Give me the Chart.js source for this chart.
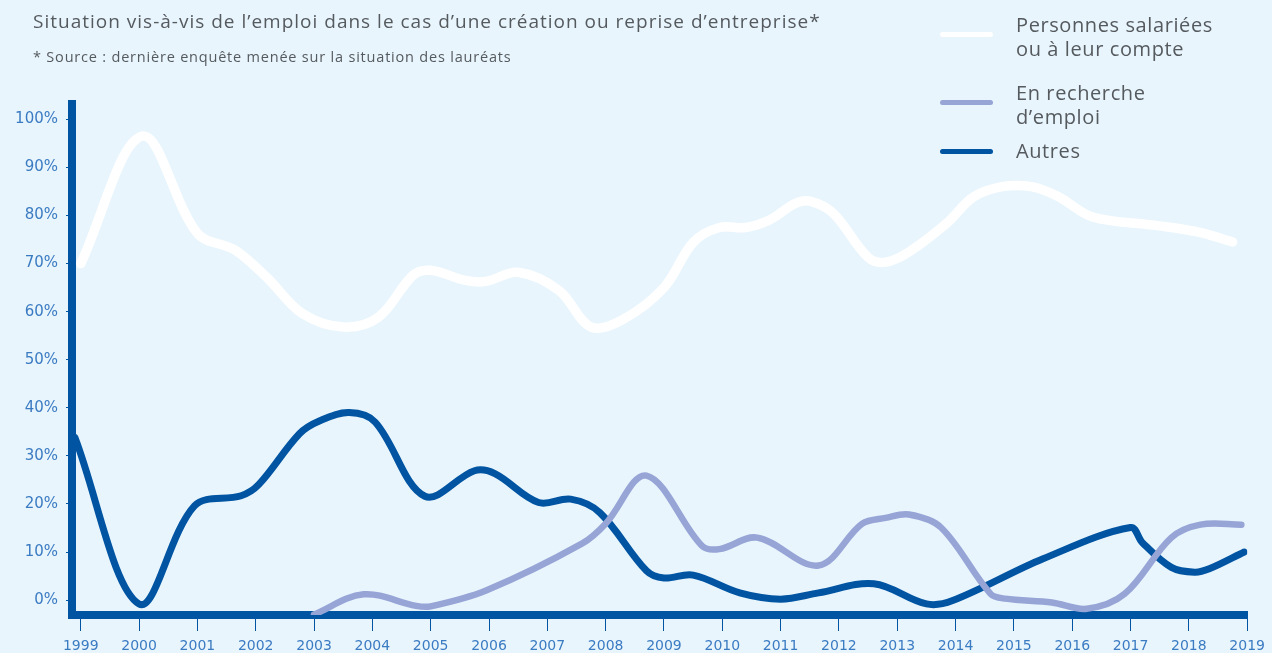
<!DOCTYPE html>
<html lang="fr">
<head>
<meta charset="utf-8">
<title>Situation vis-à-vis de l’emploi</title>
<script src="https://cdn.jsdelivr.net/npm/chart.js@4/dist/chart.umd.min.js"></script>
<style>
  html, body {
    margin: 0;
    padding: 0;
    background: #e8f5fd;
  }
  .wrap {
    position: relative;
    width: 1272px;
    height: 653px;
    font-family: "Open Sans", sans-serif;
    color: #555a5e;
  }
  .title {
    position: absolute;
    left: 33px;
    top: 8px;
    font-size: 19px;
    letter-spacing: 1px;
    white-space: nowrap;
  }
  .subtitle {
    position: absolute;
    left: 33px;
    top: 47px;
    font-size: 14.5px;
    letter-spacing: 0.8px;
    white-space: nowrap;
  }
  .legend_item {
    position: absolute;
    left: 940px;
  }
  .legend_line {
    position: absolute;
    left: 0;
    width: 53px;
    height: 5px;
    border-radius: 3px;
  }
  .legend_text {
    position: absolute;
    left: 76px;
    font-size: 20px;
    letter-spacing: 0.6px;
    line-height: 24px;
    white-space: nowrap;
  }
  canvas {
    position: absolute;
    left: 0;
    top: 0;
  }
</style>
</head>
<body>
<div class="wrap">
  <canvas id="myChart" width="1272" height="653"></canvas>
  <div class="title">Situation vis-à-vis de l’emploi dans le cas d’une création ou reprise d’entreprise*</div>
  <div class="subtitle">* Source : dernière enquête menée sur la situation des lauréats</div>
  <div id="legend"></div>
</div>
<script>
const years = [1999, 2000, 2001, 2002, 2003, 2004, 2005, 2006, 2007, 2008, 2009,
  2010, 2011, 2012, 2013, 2014, 2015, 2016, 2017, 2018, 2019];
const yTicks = [0, 10, 20, 30, 40, 50, 60, 70, 80, 90, 100];

const salariesX = [1999, 2000.05, 2001, 2001.65, 2002.2, 2002.8, 2003.5, 2004.1,
  2004.7, 2005, 2005.6, 2005.95, 2006.5, 2007.2, 2007.75, 2008.3, 2009, 2009.5, 2009.95,
  2010.4, 2010.8, 2011.25, 2011.5, 2011.9, 2012.5, 2012.8, 2013.2, 2013.85, 2014.3,
  2014.8, 2015.3, 2015.75, 2016.35, 2017.4, 2018.15, 2018.75];
const salariesY = [70, 96.5, 76.3, 72.8, 67, 59.6, 56.8, 58.8,
  67.6, 68.6, 66.5, 66.3, 68.2, 64.4, 56.8, 58.4, 65, 74.4, 77.5,
  77.5, 79, 82.5, 83, 80.5, 71.3, 70.3, 72.4, 78.4, 83.8,
  86, 86, 84, 79.7, 78, 76.6, 74.5];

const rechercheX = [2003, 2003.85, 2004.75, 2005, 2005.95, 2007.6, 2008, 2008.7, 2009.65,
  2009.95, 2010.6, 2011.65, 2012.4, 2012.8, 2013.2, 2013.75, 2014.6, 2014.85, 2015.65,
  2016.25, 2016.9, 2017.7, 2018.2, 2018.9];
const rechercheY = [-3, 1.2, -1.2, -1.3, 2, 11.8, 15.9, 25.9, 11.3,
  10.6, 13, 7.2, 15.9, 17.1, 17.8, 15.1, 1.3, 0.3, -0.5,
  -1.8, 1.3, 13, 15.7, 15.7];

const autresX = [1998.9, 2000, 2000.95, 2001.75, 2002.05, 2002.75, 2003.1, 2003.6, 2004.05,
  2004.9, 2005.75, 2006.1, 2006.85, 2007.4, 2007.9, 2008.7, 2009, 2009.5, 2010.3, 2011,
  2011.65, 2012.6, 2013.5, 2013.95, 2015.5, 2017, 2017.2, 2017.7, 2018.1, 2018.35, 2018.95];
const autresY = [33.8, -0.8, 19.6, 21.7, 24, 34.6, 37.3, 39, 37,
  21.6, 26.9, 26.3, 20.3, 21, 18.2, 6.1, 4.6, 5.2, 1.5, 0.2,
  1.5, 3.4, -0.8, -0.1, 8.6, 15.1, 12, 6.8, 5.8, 6.5, 10];

const seriesNames = ["Personnes salariées\nou à leur compte", "En recherche\nd’emploi", "Autres"];
const seriesColors = ["#ffffff", "#97a4d6", "#0054a1"];

const toPoints = (xs, ys) => xs.map((x, i) => ({ x: x, y: ys[i] }));

// legende en HTML (libelles sur deux lignes)
const legendTops = [13, 81, 139];
const legendEl = document.getElementById("legend");
seriesNames.forEach((name, i) => {
  const item = document.createElement("div");
  item.className = "legend_item";
  item.style.top = legendTops[i] + "px";
  const line = document.createElement("div");
  line.className = "legend_line";
  line.style.background = seriesColors[i];
  line.style.top = (name.includes("\n") ? 19 : 10) + "px";
  const text = document.createElement("div");
  text.className = "legend_text";
  text.innerHTML = name.replace("\n", "<br>");
  item.appendChild(line);
  item.appendChild(text);
  legendEl.appendChild(item);
});

const axisBlue = "#0054a1";
const tickBlue = "#3b7bc2";

const ctx = document.getElementById("myChart").getContext("2d");
const myChart = new Chart(ctx, {
  type: "line",
  data: {
    datasets: [
      {
        label: seriesNames[2],
        data: toPoints(autresX, autresY),
        borderColor: seriesColors[2],
        borderWidth: 7,
        order: 3,
      },
      {
        label: seriesNames[1],
        data: toPoints(rechercheX, rechercheY),
        borderColor: seriesColors[1],
        borderWidth: 6.5,
        order: 2,
      },
      {
        label: seriesNames[0],
        data: toPoints(salariesX, salariesY),
        borderColor: seriesColors[0],
        borderWidth: 9.5,
        order: 1,
      },
    ],
  },
  options: {
    responsive: false,
    devicePixelRatio: 1,
    animation: false,
    layout: {
      padding: { top: 104, right: 18, left: 0, bottom: 0 },
    },
    elements: {
      point: { radius: 0 },
      line: {
        tension: 0.35,
        borderCapStyle: "round",
        borderJoinStyle: "round",
        fill: false,
      },
    },
    plugins: {
      legend: { display: false },
      tooltip: { enabled: false },
    },
    scales: {
      x: {
        type: "linear",
        min: 1998.85,
        max: 2019,
        afterBuildTicks: (scale) => {
          scale.ticks = years.map((v) => ({ value: v }));
        },
        afterFit: (scale) => {
          scale.height = 38;
        },
        border: { display: true, color: axisBlue, width: 8 },
        grid: {
          drawOnChartArea: false,
          tickLength: 16,
          tickColor: axisBlue,
          lineWidth: 1,
        },
        ticks: {
          color: tickBlue,
          padding: 7,
          maxRotation: 0,
          autoSkip: false,
          font: { family: "DejaVu Sans", size: 14 },
          callback: (v) => String(v),
        },
      },
      y: {
        min: -3.1,
        max: 103.2,
        afterBuildTicks: (scale) => {
          scale.ticks = yTicks.map((v) => ({ value: v }));
        },
        afterFit: (scale) => {
          scale.width = 72;
        },
        border: { display: true, color: axisBlue, width: 8 },
        grid: {
          drawOnChartArea: false,
          tickLength: 6,
          tickColor: axisBlue,
          lineWidth: 1,
        },
        ticks: {
          color: tickBlue,
          padding: 8,
          font: { family: "DejaVu Sans", size: 15 },
          callback: (v) => v + "%",
        },
      },
    },
  },
});
</script>
</body>
</html>
